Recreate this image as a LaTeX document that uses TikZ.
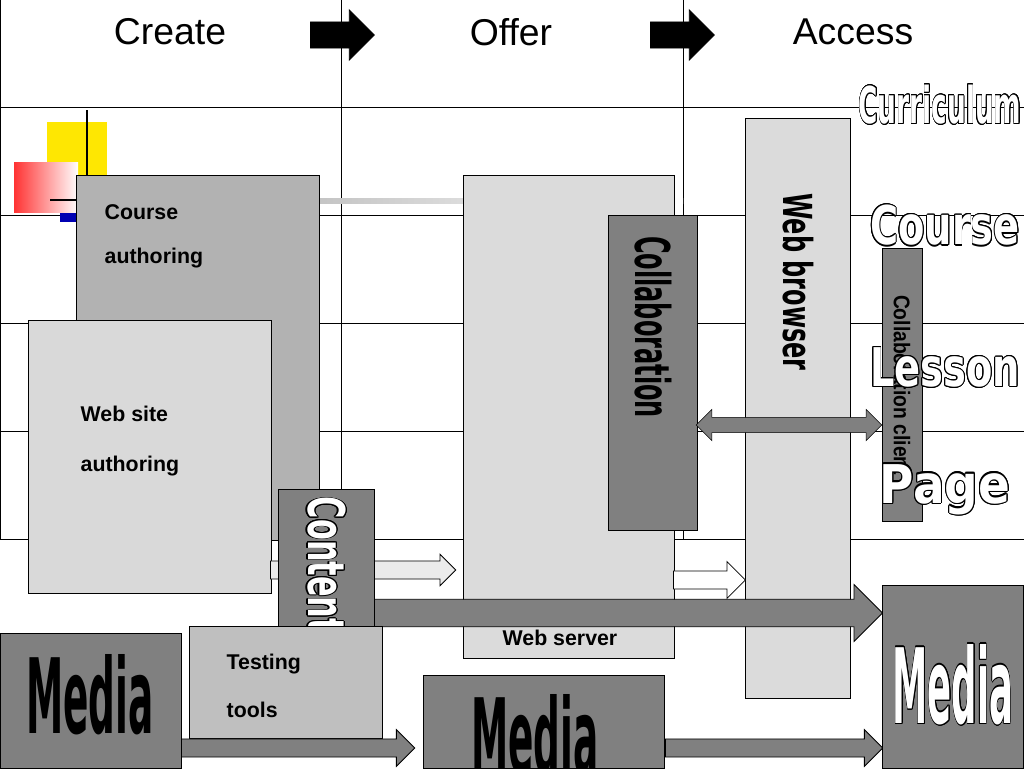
\documentclass[tikz,border=0pt]{standalone}
\usepackage{fontspec}
\setmainfont{Liberation Sans}
\newfontfamily\heavy{DejaVu Sans}
\usepackage{contour}
\contourlength{0.9pt}
\usetikzlibrary{shapes.arrows}
\newcommand{\outl}[1]{\contour{black}{\textcolor{white}{#1}}}
\newcommand{\fs}[1]{\fontsize{#1}{#1}\selectfont}
\begin{document}
\begin{tikzpicture}[x=0.75pt,y=-0.75pt,
  box/.style={draw=black,line width=0.6pt,anchor=north west,inner sep=0pt},
  lbl/.style={anchor=west,font=\fs{16}\bfseries},
  hv/.style={font=\fs{#1}\heavy\bfseries},
  blk/.style n args={3}{single arrow,draw=black,line width=0.6pt,minimum height=#1,anchor=west,
    inner sep=0pt,text height=#2,text depth=0pt,text width=0pt,single arrow head extend=#3},
  grid/.style={line width=0.6pt}]
\useasboundingbox (0,0) rectangle (1024,768);
\fill[white] (0,0) rectangle (1024,768);
% grid
\foreach \y in {107,215,323,431,539} \draw[grid] (0,\y) -- (1024,\y);
\foreach \x in {0,341,683} \draw[grid] (\x,0) -- (\x,539);
\node (hc) at (170,32) {\fs{28}Create};
\node (ho) at (511,32) {\fs{28}Offer};
\node (ha) at (853,32) {\fs{28}Access};
\node[blk={48pt}{19pt}{9pt},fill=black] (a1) at (310,35) {};
\node[blk={48pt}{19pt}{9pt},fill=black] (a2) at (650,35) {};
% decoration
\fill[yellow!90!orange] (47,122) rectangle (107,182);
\fill[blue!70!black] (60,182) rectangle (120,222);
\shade[left color=red!80,right color=white] (14,162) rectangle (78,212);
\draw[line width=1.5pt] (87,110) -- (87,215);
\draw[line width=1.5pt] (50,200) -- (130,200);
\shade[left color=gray!70,right color=white] (130,198) rectangle (683,203);
% boxes
\node[box,fill=black!30,minimum width=182pt,minimum height=274pt] (ca) at (76,175) {};
\node[lbl] (cat1) at (100,212) {Course};
\node[lbl] (cat2) at (100,258) {authoring};
\node[box,fill=black!15,minimum width=182pt,minimum height=205pt] (wa) at (28,320) {};
\node[lbl] (wat1) at (76,414) {Web site};
\node[lbl] (wat2) at (76,466) {authoring};
\node[box,fill=black!14,minimum width=158pt,minimum height=362pt] (ws) at (463,175) {};
\node[font=\fs{16}\bfseries] (wst) at (560,638) {Web server};
\node[box,fill=black!50,minimum width=67pt,minimum height=236pt] (col) at (608,215) {};
\node[rotate=-90,hv=36] (colt) at (653,327) {\scalebox{0.5}[1]{Collaboration}};
\node[box,fill=black!14,minimum width=79pt,minimum height=435pt] (wb) at (745,118) {};
\node[rotate=-90,hv=30] (wbt) at (798,282) {\scalebox{0.6}[1]{Web browser}};
\node[box,fill=black!50,minimum width=30pt,minimum height=205pt] (cc) at (882,248) {};
\node[rotate=-90,font=\fs{17}\bfseries] (cct) at (902,385) {\scalebox{0.85}[1]{Collaboration client}};
\node[double arrow,draw=black,fill=black!50,minimum height=139pt,inner sep=0pt,text height=11pt,text depth=0pt,text width=0pt,double arrow head extend=6pt] (da) at (789,425) {};
% outlined levels
\node[hv=38] (lc) at (940,105) {\scalebox{0.52}[1]{\outl{Curriculum}}};
\node[hv=40] (lco) at (945,226) {\scalebox{0.72}[1]{\outl{Course}}};
\node[hv=40] (ll) at (945,368) {\scalebox{0.72}[1]{\outl{Lesson}}};
\node[hv=40] (lp) at (945,490) {\scalebox{0.88}[1]{\outl{Page}}};
% arrows middle
\node[blk={139pt}{13pt}{5pt},fill=black!8] (ar1) at (270,570) {};
\node[blk={54pt}{13pt}{7pt},fill=white] (ar2) at (673,580) {};
\node[blk={381pt}{20pt}{11pt},fill=black!50] (ar3) at (374,613) {};
% content
\node[box,fill=black!50,minimum width=72pt,minimum height=115pt] (ct) at (278,489) {};
\node[rotate=-90,hv=38] (ctt) at (326,565) {\scalebox{0.6}[1]{\outl{Content}}};
% bottom
\node[box,fill=black!25,minimum width=145pt,minimum height=84pt] (tt) at (189,626) {};
\node[lbl] (tt1) at (222,664) {Testing};
\node[lbl] (tt2) at (222,710) {tools};
\node[blk={175pt}{13pt}{7pt},fill=black!50] (ar4) at (181,748) {};
\node[blk={163pt}{13pt}{7pt},fill=black!50] (ar5) at (665,748) {};
\node[box,fill=black!50,minimum width=136pt,minimum height=101pt] (m1) at (0,633) {};
\node[hv=78] (m1t) at (90,695) {\scalebox{0.36}[1]{Media}};
\node[box,fill=black!50,minimum width=181pt,minimum height=70pt] (m2) at (423,675) {};
\node[hv=78] (m2t) at (535,735) {\scalebox{0.36}[1]{Media}};
\node[box,fill=black!50,minimum width=106pt,minimum height=137pt] (m3) at (882,585) {};
\node[hv=78] (m3t) at (953,685) {\scalebox{0.34}[1]{\outl{Media}}};
\end{tikzpicture}
\end{document}
